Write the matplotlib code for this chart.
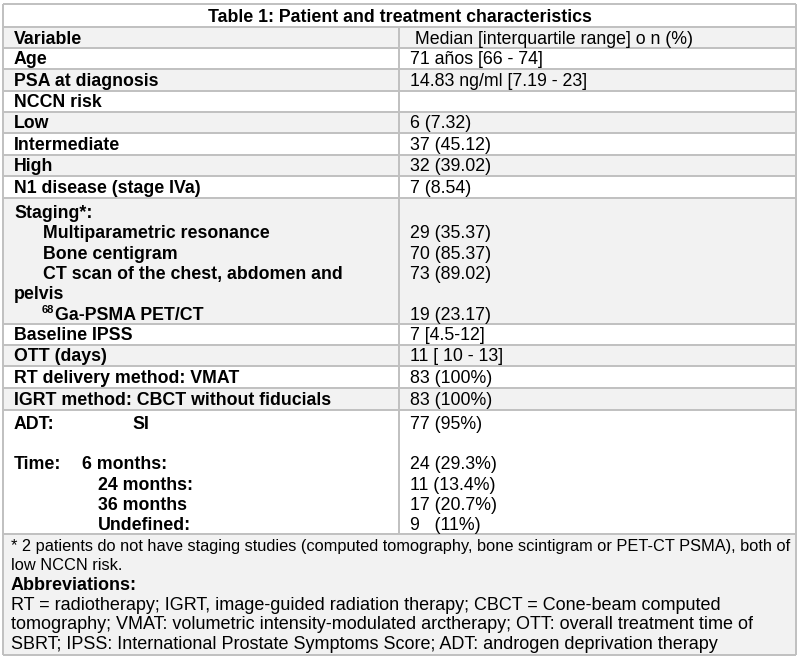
import matplotlib
matplotlib.use("Agg")
import matplotlib.pyplot as plt

# ==========================================
# Table content
# ==========================================

title = "Table 1: Patient and treatment characteristics"
header = ["Variable", " Median [interquartile range] o n (%)"]

simple_vars = ["Age", "PSA at diagnosis", "NCCN risk", "Low", "Intermediate",
               "High", "N1 disease (stage IVa)"]
simple_vals = ["71 años [66 - 74]", "14.83 ng/ml [7.19 - 23]", "", "6 (7.32)",
               "37 (45.12)", "32 (39.02)", "7 (8.54)"]

staging_head = "Staging*:"
staging_items = ["Multiparametric resonance", "Bone centigram",
                 "CT scan of the chest, abdomen and"]
staging_wrap = "pelvis"
staging_pet = "Ga-PSMA PET/CT"
staging_pet_sup = "68"
staging_vals = ["29 (35.37)", "70 (85.37)", "73 (89.02)", "19 (23.17)"]

mid_vars = ["Baseline IPSS", "OTT (days)", "RT delivery method: VMAT",
            "IGRT method: CBCT without fiducials"]
mid_vals = ["7 [4.5-12]", "11 [ 10 - 13]", "83 (100%)", "83 (100%)"]

adt_label = ["ADT:", "SI"]
adt_val = "77 (95%)"
time_label = "Time:"
time_cats = ["6 months:", "24 months:", "36 months", "Undefined:"]
time_vals = ["24 (29.3%)", "11 (13.4%)", "17 (20.7%)", "9   (11%)"]

footnote = ["* 2 patients do not have staging studies (computed tomography, bone scintigram or PET-CT PSMA), both of",
            "low NCCN risk."]
abbr_head = "Abbreviations:"
abbr_lines = ["RT = radiotherapy; IGRT, image-guided radiation therapy; CBCT = Cone-beam computed",
              "tomography; VMAT: volumetric intensity-modulated arctherapy; OTT: overall treatment time of",
              "SBRT; IPSS: International Prostate Symptoms Score; ADT: androgen deprivation therapy"]

# ==========================================
# Layout (pixel units, y down)
# ==========================================

W, H = 800, 659
LEFT, RIGHT, MID = 3, 796, 399
row_edges = [4, 27, 48, 69, 91, 112, 133, 155, 176, 198, 324, 345, 366, 388, 410, 534, 655]
GRAY = "#f2f2f2"
LINE = "#c0c0c0"
FONT = "Liberation Sans"
FS = 12.8
DY = 1.2  # nudge text down a touch, va="center" sits high

fig = plt.figure(figsize=(W / 100, H / 100), dpi=100)
ax = fig.add_axes([0, 0, 1, 1])
ax.set_xlim(0, W)
ax.set_ylim(H, 0)
ax.axis("off")

# alternating row shading: title white, then gray/white ...
for i in range(len(row_edges) - 1):
    if i % 2 == 1:
        ax.axhspan(row_edges[i], row_edges[i + 1], xmin=LEFT / W, xmax=RIGHT / W,
                   color=GRAY, lw=0, zorder=0)

ax.hlines(row_edges, LEFT, RIGHT, color=LINE, lw=1.4, zorder=1)
ax.vlines([LEFT, RIGHT], row_edges[0], row_edges[-1], color=LINE, lw=1.4, zorder=1)
ax.vlines(MID, row_edges[1], row_edges[-2], color=LINE, lw=1.4, zorder=1)


def put(x, y, s, bold=False, size=FS, ha="left"):
    return ax.text(x, y + DY, s, fontsize=size, fontfamily=FONT, ha=ha, va="center",
                   fontweight="bold" if bold else "normal", zorder=2)


XL, XV = 14, 410

put(W / 2, 16, title, bold=True, ha="center")
put(XL, 38, header[0], bold=True)
put(XV, 38, header[1])

for k, (var, val) in enumerate(zip(simple_vars, simple_vals)):
    yc = (row_edges[k + 2] + row_edges[k + 3]) / 2
    put(XL, yc, var, bold=True)
    put(XV, yc, val)

# staging block
stage_y = [212, 232, 253, 273, 293, 314]
put(XL, stage_y[0], staging_head, bold=True)
for k, item in enumerate(staging_items):
    put(43, stage_y[k + 1], item, bold=True)
    put(XV, stage_y[k + 1], staging_vals[k])
put(XL, stage_y[4], staging_wrap, bold=True)
sup = put(42, stage_y[5] - 5, staging_pet_sup, bold=True, size=8)
fig.canvas.draw()
sup_end = ax.transData.inverted().transform(
    sup.get_window_extent(fig.canvas.get_renderer()))[1][0]
put(sup_end + 0.3, stage_y[5], staging_pet, bold=True)
put(XV, stage_y[5], staging_vals[3])

for k, (var, val) in enumerate(zip(mid_vars, mid_vals)):
    yc = (row_edges[k + 10] + row_edges[k + 11]) / 2
    put(XL, yc, var, bold=True)
    put(XV, yc, val)

# ADT block
put(XL, 423, adt_label[0], bold=True)
put(132, 423, adt_label[1], bold=True)
put(XV, 423, adt_val)
time_y = [463, 484, 504, 524]
put(XL, time_y[0], time_label, bold=True)
for k, (cat, val) in enumerate(zip(time_cats, time_vals)):
    put(82 if k == 0 else 98, time_y[k], cat, bold=True)
    put(XV, time_y[k], val)

# footnote block
put(XL - 3, 545, footnote[0], size=11.8)
put(XL - 3, 564, footnote[1], size=11.8)
put(XL - 3, 584, abbr_head, bold=True, size=13)
for k, line in enumerate(abbr_lines):
    put(XL - 3, 604 + 19.5 * k, line, size=13)

fig.savefig("out.png", dpi=100)
